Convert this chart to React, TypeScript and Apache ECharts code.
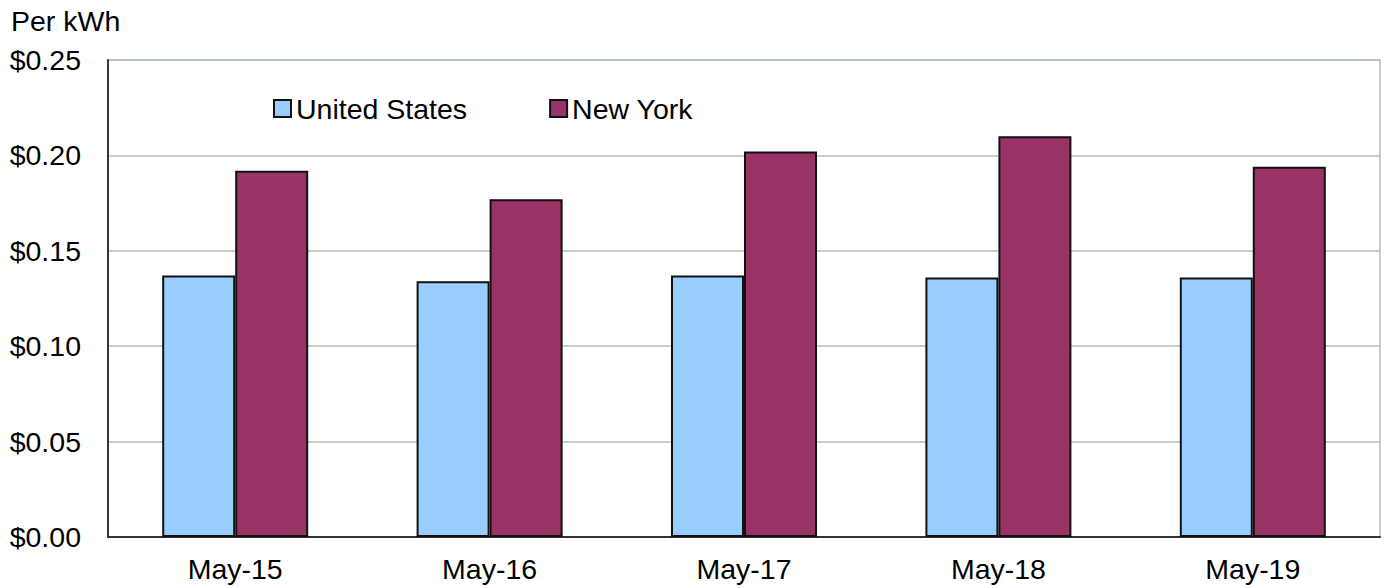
import React, { useEffect, useRef } from "react";
import * as echarts from "echarts";

const categories = ["May-15", "May-16", "May-17", "May-18", "May-19"];
const usValues = [0.137, 0.134, 0.137, 0.136, 0.136];
const nyValues = [0.192, 0.177, 0.202, 0.21, 0.194];
const seriesNames = ["United States", "New York"];
const unitLabel = "Per kWh";

export default function App() {
  const ref = useRef<HTMLDivElement>(null);
  useEffect(() => {
    const chart = echarts.init(ref.current!, null, { renderer: "svg" });
    const font = "Arial, 'Liberation Sans', sans-serif";
    const fs = 28.5;
    chart.setOption({
      animation: false,
      backgroundColor: "#ffffff",
      textStyle: { fontFamily: font },
      grid: {
        left: 108,
        right: 6,
        top: 60,
        bottom: 51,
        show: true,
        borderColor: "#b4c0b4",
        borderWidth: 1.5,
        backgroundColor: "transparent",
      },
      legend: {
        left: 268,
        top: 89,
        itemWidth: 17,
        itemHeight: 17,
        itemGap: 82,
        icon: "rect",
        textStyle: { fontSize: fs, color: "#000", fontFamily: font, padding: [0, 0, 0, 0] },
        data: seriesNames,
      },
      graphic: [
        {
          type: "text",
          left: 11,
          top: 6,
          style: { text: unitLabel, font: `${fs}px ${font}`, fill: "#000" },
        },
      ],
      xAxis: {
        type: "category",
        data: categories,
        axisLine: { show: true, lineStyle: { color: "#333", width: 2 } },
        axisTick: { show: false },
        axisLabel: { fontSize: fs, color: "#000", margin: 17, fontFamily: font },
      },
      yAxis: {
        type: "value",
        min: 0,
        max: 0.25,
        interval: 0.05,
        axisLine: { show: true, lineStyle: { color: "#333", width: 2 } },
        axisTick: { show: false },
        splitLine: { show: true, lineStyle: { color: "#b4c0b4", width: 1.5 } },
        axisLabel: {
          fontSize: fs,
          color: "#000",
          margin: 27,
          fontFamily: font,
          formatter: (v: number) => "$" + v.toFixed(2),
        },
      },
      series: [
        {
          name: seriesNames[0],
          type: "bar",
          data: usValues,
          barWidth: 73,
          barGap: "0%",
          itemStyle: { color: "#99ccff", borderColor: "#111", borderWidth: 2 },
        },
        {
          name: seriesNames[1],
          type: "bar",
          data: nyValues,
          barWidth: 73,
          barGap: "0%",
          itemStyle: { color: "#993366", borderColor: "#111", borderWidth: 2 },
        },
      ],
    });
    return () => chart.dispose();
  }, []);
  return (
    <div
      ref={ref}
      style={{ position: "fixed", left: 0, top: 0, width: 1386, height: 588 }}
    />
  );
}
